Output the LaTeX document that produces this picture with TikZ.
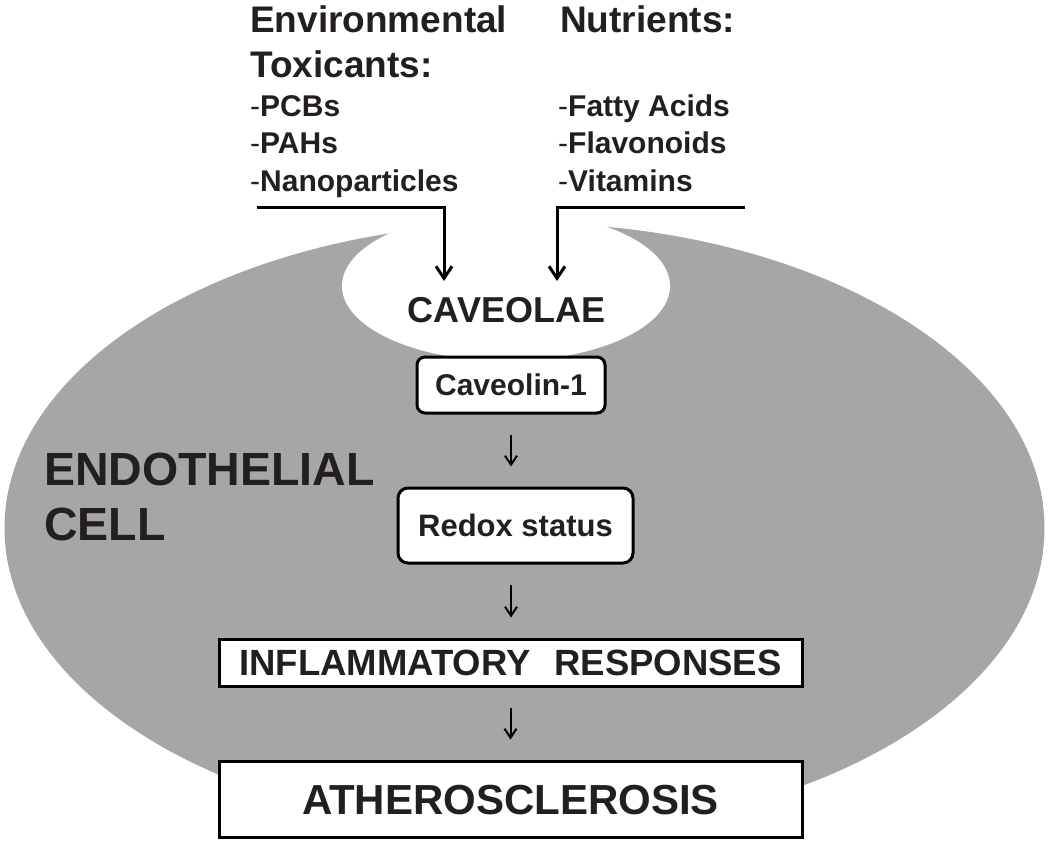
\documentclass[tikz,border=0pt]{standalone}
\usepackage{fontspec}
\setmainfont{Liberation Sans}
\usetikzlibrary{arrows.meta}
\definecolor{cellgray}{RGB}{166,166,166}
\definecolor{ink}{RGB}{35,31,32}
\newcommand\fsz[1]{\fontsize{#1}{#1}\selectfont}
\begin{document}
\begin{tikzpicture}[x=1pt,y=-1pt,
  lbl/.style={anchor=base west, inner sep=0pt, text=ink, font=\bfseries\fsz{37}},
  item/.style={anchor=base west, inner sep=0pt, text=ink, font=\bfseries\fsz{30}},
  big/.style={anchor=base west, inner sep=0pt, text=ink, font=\bfseries\fsz{46.5}},
  rbox/.style={draw=black, line width=3pt, fill=white, inner sep=0pt, text=ink,
    text depth=0pt},
  feed/.style={line width=3pt, -{Straight Barb[length=12pt,width=16pt]}},
  flow/.style={line width=2pt, -{Straight Barb[length=9pt,width=12pt]},
    shorten <=20pt, shorten >=20pt},
]
\useasboundingbox (0,0) rectangle (1050,846);
% cell body with caveola notch
\fill[cellgray] (524.5,528) ellipse [x radius=520, y radius=305];
\fill[white] (506,286) ellipse [x radius=164, y radius=75];

% top labels
\node[lbl] (envA) at (250,32) {Environmental};
\node[lbl] (envB) at (250,77) {Toxicants:};
\node[item] (pcb) at (250,116) {{\mdseries -}PCBs};
\node[item] (pah) at (250,153) {{\mdseries -}PAHs};
\node[item] (nano) at (250,191) {{\mdseries -}Nanoparticles};
\node[lbl] (nutA) at (560,32) {Nutrients:};
\node[item] (fat) at (558,116) {{\mdseries -}Fatty Acids};
\node[item] (flav) at (558,153) {{\mdseries -}Flavonoids};
\node[item] (vit) at (558,191) {{\mdseries -}Vitamins};

% cell label
\node[big] (endo) at (44,485) {ENDOTHELIAL};
\node[big] (cell) at (44,540) {CELL};

% caveolae and pathway
\node[anchor=base, inner sep=0pt, text=ink, font=\bfseries\fsz{36}] (cav) at (506.5,322) {CAVEOLAE};
\node[rbox, rounded corners=8pt, minimum width=188, minimum height=56, text height=21.5pt,
  font=\bfseries\fsz{30}] (cav1) at (511,385) {Caveolin-1};
\node[rbox, rounded corners=10pt, minimum width=235, minimum height=75, text height=22pt,
  font=\bfseries\fsz{31}] (redox) at (515.5,525.5) {Redox status};
\node[rbox, minimum width=583, minimum height=47, text height=26pt,
  font=\bfseries\fsz{36.5}] (infl) at (510.5,662.5) {INFLAMMATORY\hspace{0.65em}RESPONSES};
\node[rbox, minimum width=583, minimum height=76, text height=30pt,
  font=\bfseries\fsz{42}] (ath) at (510.5,799) {ATHEROSCLEROSIS};

% feeding arrows
\coordinate (envL) at (257,207);
\coordinate (envT) at (444,281);
\coordinate (nutR) at (745,207);
\coordinate (nutT) at (557,281);
\draw[feed] (envL) -| (envT);
\draw[feed] (nutR) -| (nutT);

% pathway arrows
\draw[flow] (cav1.south) -- (cav1.south |- redox.north);
\draw[flow] (redox.south -| cav1.south) -- (infl.north -| cav1.south);
\draw[flow] (infl.south) -- (ath.north);
\end{tikzpicture}
\end{document}
